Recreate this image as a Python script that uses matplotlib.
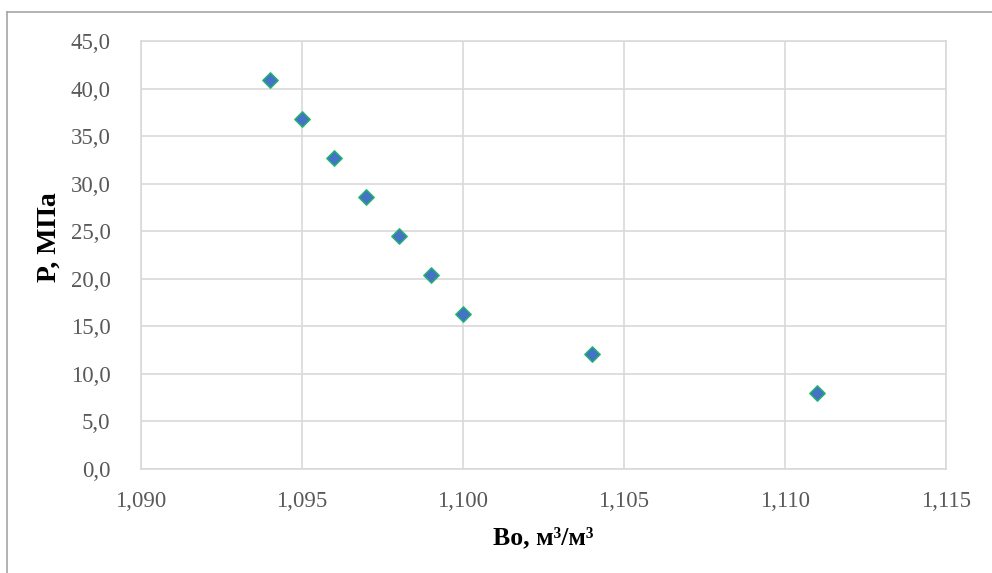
import matplotlib
matplotlib.use("Agg")
import matplotlib.pyplot as plt
from matplotlib.ticker import FuncFormatter, MultipleLocator
from matplotlib.lines import Line2D

# oil formation volume factor vs pressure
bo = [1.094, 1.095, 1.096, 1.097, 1.098, 1.099, 1.100, 1.104, 1.111]
p_mpa = [40.9, 36.8, 32.7, 28.6, 24.5, 20.4, 16.3, 12.1, 8.0]

plt.rcParams['font.family'] = ['Liberation Serif', 'DejaVu Serif']

fig = plt.figure(figsize=(9.92, 5.73), dpi=100)
ax = fig.add_axes([141 / 992, 104 / 573, 805 / 992, 428 / 573])

ax.scatter(bo, p_mpa, marker='D', s=62, color='#4472C4',
           edgecolors='#21B868', linewidths=1.0, zorder=3)

ax.set_xlim(1.090, 1.115)
ax.set_ylim(0, 45)
ax.xaxis.set_major_locator(MultipleLocator(0.005))
ax.yaxis.set_major_locator(MultipleLocator(5))
ax.xaxis.set_major_formatter(FuncFormatter(lambda v, _: f"{v:.3f}".replace('.', ',')))
ax.yaxis.set_major_formatter(FuncFormatter(lambda v, _: f"{v:.1f}".replace('.', ',')))

ax.grid(True, color='#D9D9D9', linewidth=1.2)
ax.set_axisbelow(True)
for s in ax.spines.values():
    s.set_color('#D9D9D9')
    s.set_linewidth(1.2)

ax.tick_params(length=0, labelsize=16.5, labelcolor='#595959')
ax.tick_params(axis='y', pad=22)
ax.tick_params(axis='x', pad=16)

ax.set_xlabel('Bo, м³/м³', fontsize=18.5, fontweight='bold', labelpad=10)
ax.set_ylabel('P, МПа', fontsize=20, fontweight='bold')
ax.yaxis.set_label_coords(-0.099, 0.542)

# outer chart frame (left and top edges)
fig.add_artist(Line2D([7 / 992, 7 / 992], [0, 1 - 12 / 573], color='#A6A6A6', linewidth=1.2))
fig.add_artist(Line2D([7 / 992, 1], [1 - 12 / 573, 1 - 12 / 573], color='#A6A6A6', linewidth=1.2))

fig.savefig('out.png', dpi=100)
